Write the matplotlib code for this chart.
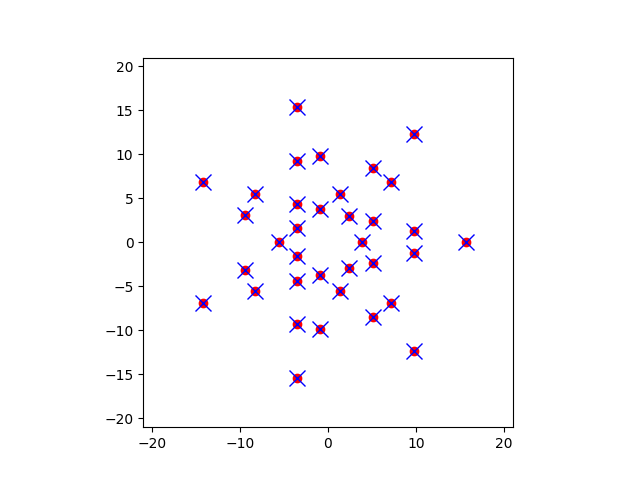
import numpy as np
import matplotlib.pyplot as plt

# Point coordinates
x = [-3.52, 9.77, -14.2, -3.52, -0.91, 5.11, 7.16, -8.3, -3.52, 1.36,
     -0.91, -9.43, 2.39, 5.11, -3.52, 9.77, -5.57, 3.86, 15.68,
     -3.52, 9.77, -14.2, -3.52, -0.91, 5.11, 7.16, -8.3, -3.52, 1.36,
     -0.91, -9.43, 2.39, 5.11, -3.52, 9.77]
y = [15.38, 12.3, 6.83, 9.22, 9.8, 8.43, 6.83, 5.47, 4.33, 5.47,
     3.76, 3.08, 2.96, 2.39, 1.6, 1.25, 0.0, 0.0, 0.0,
     -15.38, -12.3, -6.83, -9.22, -9.8, -8.43, -6.83, -5.47, -4.33, -5.47,
     -3.76, -3.08, -2.96, -2.39, -1.6, -1.25]

fig, ax = plt.subplots(figsize=(6.4, 4.8), dpi=100)
ax.plot(x, y, 'ro', markersize=6)
ax.plot(x, y, 'bx', markersize=12)
ax.set_xlim(-21, 21)
ax.set_ylim(-21, 21)
ax.set_aspect('equal')

plt.savefig("out.png")
